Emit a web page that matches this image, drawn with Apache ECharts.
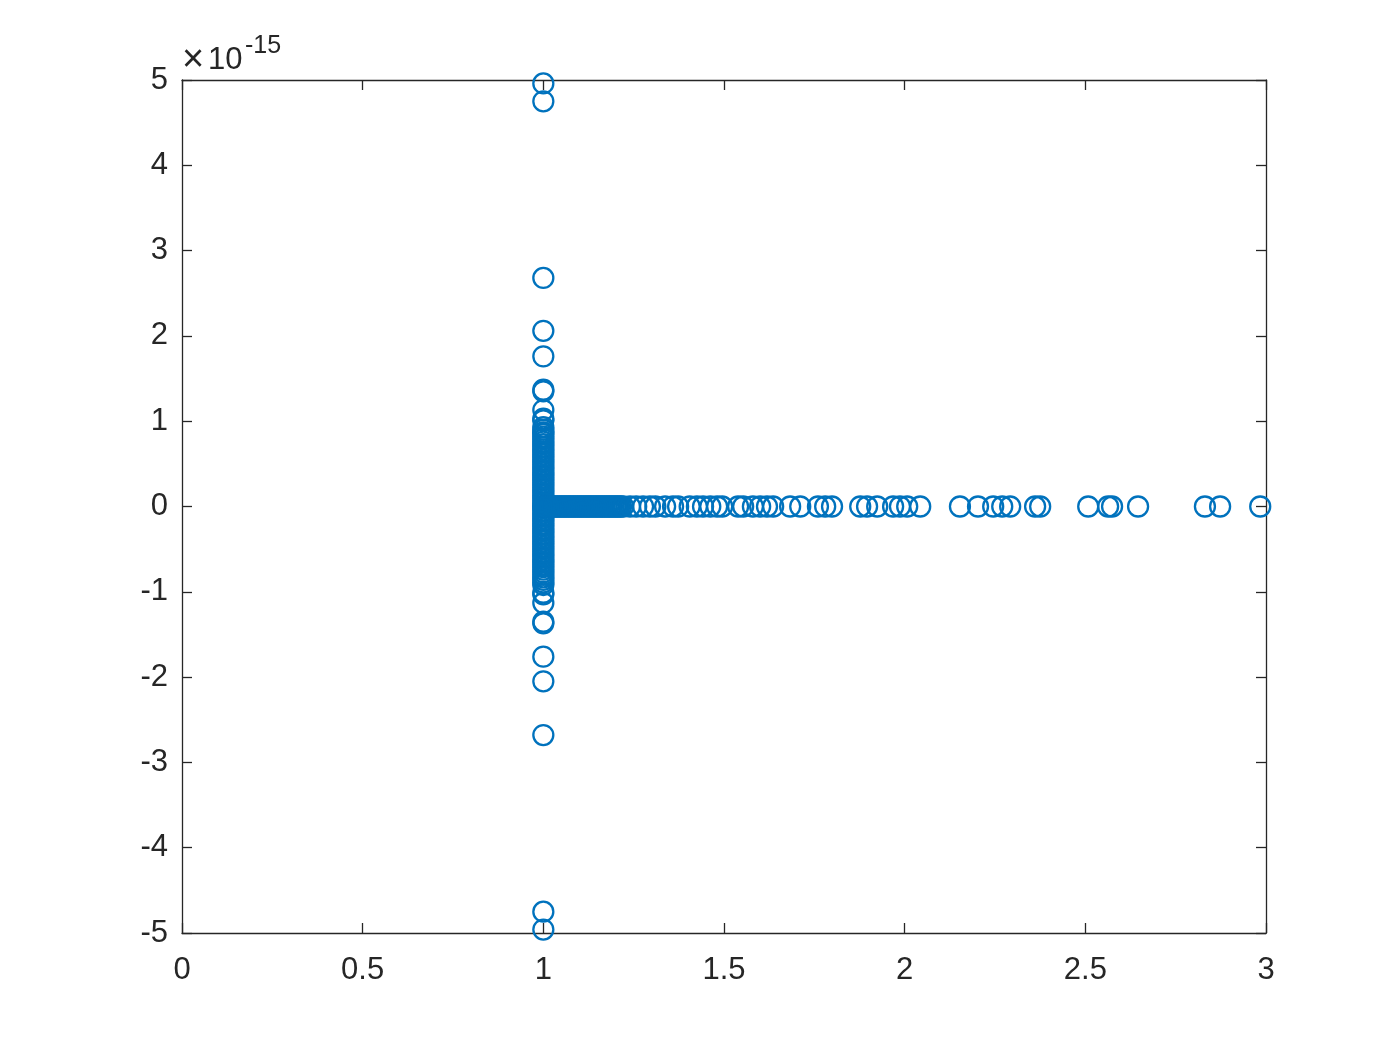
<!DOCTYPE html>
<html>
<head>
    <meta charset="UTF-8">
    <title>Scatter</title>
    <script src="https://cdn.jsdelivr.net/npm/echarts@6.0.0/dist/echarts.min.js"></script>
    <style>
        * { margin: 0; padding: 0; }
        body { background: #fff; }
        #chart { width: 1400px; height: 1050px; }
    </style>
</head>
<body>
    <div id="chart"></div>
    <script>
        // y values are in units of 1e-15 (axis shows x10^-15)
        const colX = 1;
        const colY = [
            4.96, 4.75, 2.68, 2.06, 1.76, 1.37, 1.35, 1.13, 1.03, 1.01,
            0.93, 0.9, 0.87, 0.85, 0.82, 0.79, 0.76, 0.73, 0.7, 0.67,
            0.64, 0.61, 0.58, 0.55, 0.52, 0.49, 0.46, 0.43, 0.4, 0.37,
            0.34, 0.31, 0.28, 0.25, 0.22, 0.19, 0.16, 0.13, 0.1, 0.07,
            0.04, 0.01, -0.02, -0.05, -0.08, -0.11, -0.14, -0.17, -0.2, -0.23,
            -0.26, -0.29, -0.32, -0.35, -0.38, -0.41, -0.44, -0.47, -0.5, -0.53,
            -0.56, -0.59, -0.62, -0.65, -0.68, -0.71, -0.74, -0.77, -0.8, -0.83,
            -0.86, -0.89, -0.92,
            -1.01, -1.03, -1.13, -1.35, -1.37, -1.76, -2.05, -2.68, -4.75, -4.96
        ];
        const rowY = 0;
        const rowX = [
            1.0, 1.005, 1.01, 1.015, 1.02, 1.025, 1.03, 1.035, 1.04, 1.045,
            1.05, 1.055, 1.06, 1.065, 1.07, 1.075, 1.08, 1.085, 1.09, 1.095,
            1.1, 1.105, 1.11, 1.115, 1.12, 1.125, 1.13, 1.135, 1.14, 1.145,
            1.15, 1.155, 1.16, 1.165, 1.17, 1.175, 1.18, 1.185, 1.19, 1.195,
            1.2, 1.205, 1.21, 1.215, 1.221, 1.24, 1.257, 1.276, 1.295, 1.31,
            1.337, 1.359, 1.373, 1.405, 1.425, 1.442, 1.462, 1.481, 1.495, 1.539,
            1.553, 1.58, 1.6, 1.619, 1.636, 1.683, 1.711, 1.76, 1.78, 1.799,
            1.877, 1.896, 1.924, 1.968, 1.987, 2.007, 2.043, 2.153, 2.203, 2.245,
            2.27, 2.292, 2.361, 2.375, 2.508, 2.563, 2.574, 2.646, 2.831, 2.873,
            2.984
        ];
        const xTicks = [0, 0.5, 1, 1.5, 2, 2.5, 3];
        const yTicks = [-5, -4, -3, -2, -1, 0, 1, 2, 3, 4, 5];

        const points = colY.map(y => [colX, y]).concat(rowX.map(x => [x, rowY]));

        const axisColor = '#262626';
        const font = 'Liberation Sans, Arial, Helvetica, sans-serif';

        function makeAxis(min, max, interval, pos, showLabels, margin) {
            return {
                type: 'value',
                position: pos,
                min: min,
                max: max,
                interval: interval,
                splitLine: { show: false },
                axisLine: { show: true, onZero: false, lineStyle: { color: axisColor, width: 1.3 } },
                axisTick: { show: true, inside: true, length: 10, lineStyle: { color: axisColor, width: 1.3 } },
                axisLabel: {
                    show: showLabels,
                    color: axisColor,
                    fontSize: 31,
                    fontFamily: font,
                    margin: margin,
                    formatter: v => String(v)
                }
            };
        }

        const chart = echarts.init(document.getElementById('chart'));
        chart.setOption({
            animation: false,
            backgroundColor: '#fff',
            grid: { left: 182, right: 134, top: 80, bottom: 117, containLabel: false },
            xAxis: [
                makeAxis(xTicks[0], xTicks[xTicks.length - 1], 0.5, 'bottom', true, 22),
                makeAxis(xTicks[0], xTicks[xTicks.length - 1], 0.5, 'top', false, 8)
            ],
            yAxis: [
                makeAxis(yTicks[0], yTicks[yTicks.length - 1], 1, 'left', true, 14),
                makeAxis(yTicks[0], yTicks[yTicks.length - 1], 1, 'right', false, 8)
            ],
            graphic: [{
                type: 'text',
                x: 182,
                y: 61,
                style: { text: '×', fontSize: 38, fontFamily: font, fill: axisColor, verticalAlign: 'middle' }
            }, {
                type: 'text',
                x: 208,
                y: 60,
                style: { text: '10', fontSize: 31, fontFamily: font, fill: axisColor, verticalAlign: 'middle' }
            }, {
                type: 'text',
                x: 245,
                y: 46,
                style: { text: '-15', fontSize: 25, fontFamily: font, fill: axisColor, verticalAlign: 'middle' }
            }],
            series: [{
                type: 'scatter',
                xAxisIndex: 0,
                yAxisIndex: 0,
                symbol: 'circle',
                symbolSize: 20,
                data: points,
                itemStyle: {
                    color: 'rgba(0,0,0,0)',
                    borderColor: '#0072BD',
                    borderWidth: 2.3,
                    opacity: 1
                },
                emphasis: { disabled: true }
            }]
        });
    </script>
</body>
</html>
